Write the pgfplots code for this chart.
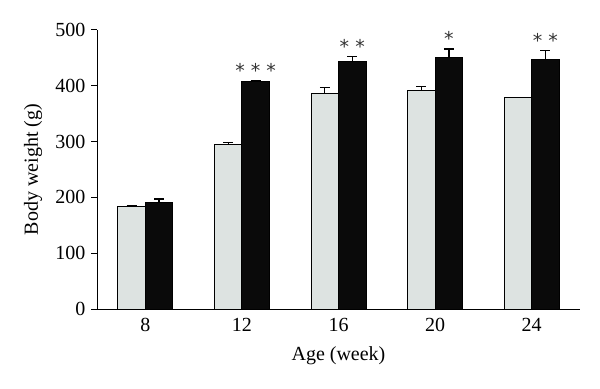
\documentclass[border=0pt]{standalone}
\usepackage{pgfplots}
\pgfplotsset{compat=1.18}
\usepackage{fontspec}
\setmainfont{Liberation Serif}
\newfontfamily\starfont{DejaVu Sans}
\definecolor{lightbar}{RGB}{221,227,225}
\definecolor{darkbar}{RGB}{10,10,10}
\begin{document}
\begin{tikzpicture}
\begin{axis}[
  name=ax, at={(0,0)}, anchor=south west,
  scale only axis, width=483pt, height=279pt,
  xmin=-0.5, xmax=4.5, ymin=0, ymax=500,
  axis lines=left, axis line style={-, line width=1pt},
  ybar=0pt, bar width=27.5pt,
  xtick={0,1,2,3,4}, xticklabels={8,12,16,20,24},
  x tick style={draw=none},
  ytick={0,100,200,300,400,500},
  y tick style={line width=1pt, black},
  tick align=outside, major tick length=6pt,
  tick label style={font=\fontsize{20}{22}\selectfont},
  /pgf/number format/assume math mode=true,
  xticklabel style={anchor=center, yshift=-10pt},
  yticklabel style={xshift=-2pt},
  xlabel={Age (week)}, ylabel={Body weight (g)},
  label style={font=\fontsize{20}{22}\selectfont},
  xlabel style={at={(axis description cs:0.5,0)}, anchor=center, yshift=-47pt},
  ylabel style={at={(axis description cs:-0.1325,0.5)}, anchor=center},
  error bars/y dir=plus, error bars/y explicit,
  error bars/error bar style={line width=1.3pt, black},
  error bars/error mark options={rotate=90, mark size=5pt, line width=1.3pt, black},
  clip=false,
]
\addplot[draw=black, line width=1pt, fill=lightbar] coordinates {
  (0,183) +- (0,3)
  (1,295) +- (0,4)
  (2,386) +- (0,11)
  (3,392) +- (0,7)
  (4,379) +- (0,0)
};
\addplot[draw=black, line width=1pt, fill=darkbar] coordinates {
  (0,190) +- (0,7)
  (1,407) +- (0,3)
  (2,443) +- (0,10)
  (3,450) +- (0,16)
  (4,447) +- (0,16)
};
\node[font=\starfont\fontsize{19}{19}\selectfont, text=black!80] at ([xshift=13.75pt]axis cs:1,427) {* * *};
\node[font=\starfont\fontsize{19}{19}\selectfont, text=black!80] at ([xshift=13.75pt]axis cs:2,470) {* *};
\node[font=\starfont\fontsize{19}{19}\selectfont, text=black!80] at ([xshift=13.75pt]axis cs:3,484) {*};
\node[font=\starfont\fontsize{19}{19}\selectfont, text=black!80] at ([xshift=13.75pt]axis cs:4,482) {* *};
\end{axis}
\path[use as bounding box] ([shift={(-97pt,-79pt)}]ax.south west) rectangle ([shift={(20pt,30pt)}]ax.north east);
\end{tikzpicture}
\end{document}
